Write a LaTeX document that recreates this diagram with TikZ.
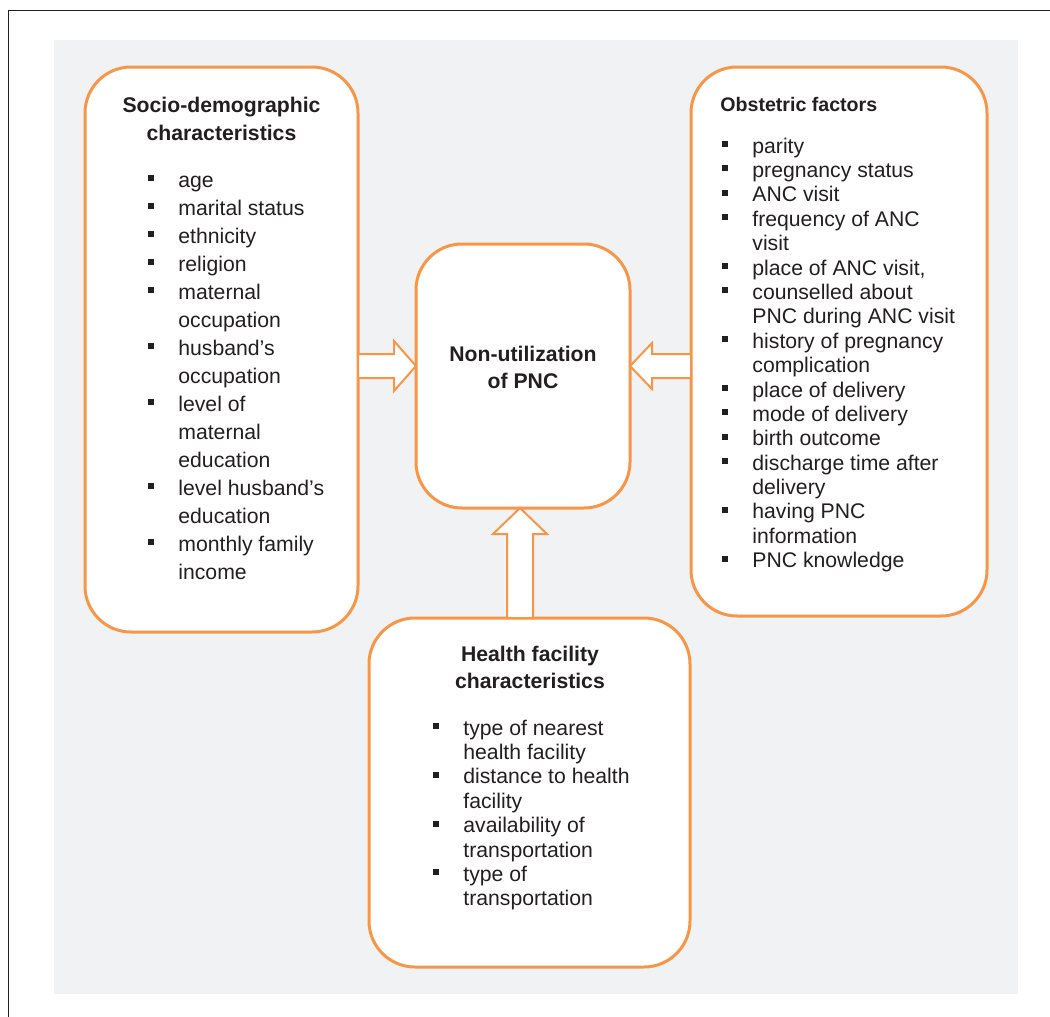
\documentclass[tikz,border=0pt]{standalone}
\usepackage{fontspec}
\setmainfont{Liberation Sans}
\usetikzlibrary{calc}
\definecolor{pncorange}{RGB}{247,150,70}
\definecolor{panelgray}{RGB}{241,242,244}
\definecolor{inkgray}{RGB}{35,31,32}
\newcommand{\blt}{\makebox[15pt][l]{\rule[3pt]{3pt}{3pt}}}
\newcommand{\nbl}{\hspace*{15pt}}

\begin{document}
\begin{tikzpicture}[x=0.5pt, y=-0.5pt,
    box/.style={draw=pncorange, line width=1.5pt, fill=white, rounded corners=23pt, inner sep=0pt, outer sep=0pt},
    fatarrow/.style={draw=pncorange, line width=1pt, fill=white},
    title/.style={font=\fontsize{10.6}{14}\selectfont\bfseries, text=inkgray, inner sep=0pt, anchor=base},
    items/.style={text=inkgray, inner sep=0pt, anchor=base west}]
    \useasboundingbox (0,0) rectangle (1050,1017);

    % frame and grey panel
    \draw[line width=0.75pt, color=inkgray] (8.5,1017) -- (8.5,10.5) -- (1050,10.5);
    \fill[panelgray] (54,40) rectangle (1018,994);

    % draw the four boxes
    \node[box, minimum width=136.5pt, minimum height=282.5pt] (soc) at (221.5,349.5) {};
    \node[box, minimum width=148pt, minimum height=274.5pt] (obs) at (839,341.5) {};
    \node[box, minimum width=107pt, minimum height=132pt] (pnc) at (523,376) {};
    \node[box, minimum width=160.5pt, minimum height=174.5pt] (hfc) at (529.5,792.5) {};

    % socio-demographic box
    \node[title] (soctitle) at (221.5,112) {\begin{tabular}[t]{@{}c@{}}Socio-demographic\\characteristics\end{tabular}};
    \node[items, font=\fontsize{10.6}{14}\selectfont] (soclist) at (148,187) {\begin{tabular}[t]{@{}l@{}}
      \blt age\\
      \blt marital status\\
      \blt ethnicity\\
      \blt religion\\
      \blt maternal\\
      \nbl occupation\\
      \blt husband’s\\
      \nbl occupation\\
      \blt level of\\
      \nbl maternal\\
      \nbl education\\
      \blt level husband’s\\
      \nbl education\\
      \blt monthly family\\
      \nbl income
    \end{tabular}};

    % obstetric box
    \node[items, font=\fontsize{9.8}{12}\selectfont\bfseries] (obstitle) at (720,111) {Obstetric factors};
    \node[items, font=\fontsize{10.6}{12.2}\selectfont] (obslist) at (722,153) {\begin{tabular}[t]{@{}l@{}}
      \blt parity\\
      \blt pregnancy status\\
      \blt ANC visit\\
      \blt frequency of ANC\\
      \nbl visit\\
      \blt place of ANC visit,\\
      \blt counselled about\\
      \nbl PNC during ANC visit\\
      \blt history of pregnancy\\
      \nbl complication\\
      \blt place of delivery\\
      \blt mode of delivery\\
      \blt birth outcome\\
      \blt discharge time after\\
      \nbl delivery\\
      \blt having PNC\\
      \nbl information\\
      \blt PNC knowledge
    \end{tabular}};

    % outcome box
    \node[title, font=\fontsize{10.6}{13.5}\selectfont\bfseries] (pnctitle) at (523,361) {\begin{tabular}[t]{@{}c@{}}Non-utilization\\of PNC\end{tabular}};

    % health facility box
    \node[title, font=\fontsize{10.6}{13.5}\selectfont\bfseries] (hfctitle) at (530,661) {\begin{tabular}[t]{@{}c@{}}Health facility\\characteristics\end{tabular}};
    \node[items, font=\fontsize{10.6}{12.2}\selectfont] (hfclist) at (433,735) {\begin{tabular}[t]{@{}l@{}}
      \blt type of nearest\\
      \nbl health facility\\
      \blt distance to health\\
      \nbl facility\\
      \blt availability of\\
      \nbl transportation\\
      \blt type of\\
      \nbl transportation
    \end{tabular}};

    % draw block arrows into the outcome box
    \coordinate (ltip) at ($(pnc.west)+(0,-10)$);
    \coordinate (rtip) at ($(pnc.east)+(0,-10)$);
    \coordinate (utip) at ($(pnc.south)+(-3,0)$);
    \draw[fatarrow] (ltip) -- ++(-22,-25) -- ++(0,13) -- ($(soc.east |- ltip)+(0,-12)$)
      -- ($(soc.east |- ltip)+(0,12)$) -- ($(ltip)+(-22,12)$) -- ++(0,13) -- cycle;
    \draw[fatarrow] (rtip) -- ++(22,-23) -- ++(0,11) -- ($(obs.west |- rtip)+(0,-12)$)
      -- ($(obs.west |- rtip)+(0,12)$) -- ($(rtip)+(22,12)$) -- ++(0,11) -- cycle;
    \draw[fatarrow] (utip) -- ++(-27,26) -- ++(14,0) -- ($(hfc.north -| utip)+(-13,0)$)
      -- ($(hfc.north -| utip)+(13,0)$) -- ($(utip)+(13,26)$) -- ++(14,0) -- cycle;
\end{tikzpicture}
\end{document}
